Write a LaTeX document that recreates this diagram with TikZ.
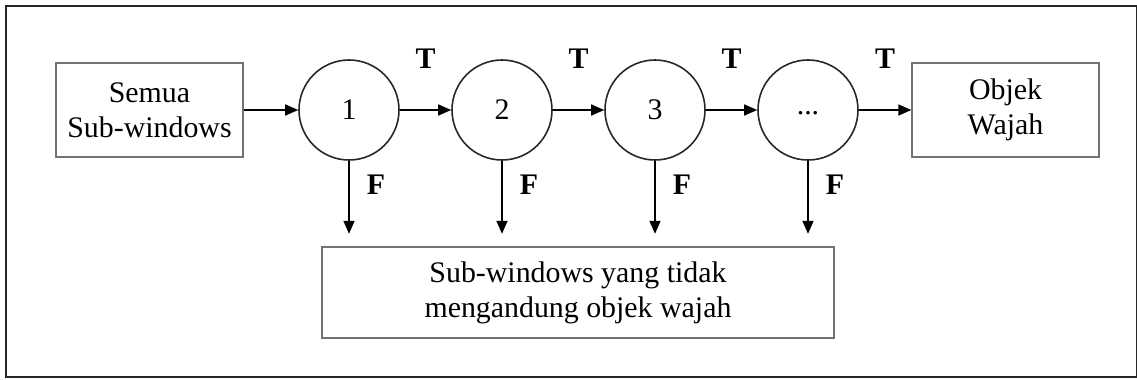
\documentclass[tikz,border=0pt]{standalone}
\usepackage{fontspec}
\setmainfont{Liberation Serif}
\usetikzlibrary{arrows.meta,positioning,calc}
\tikzset{
  kotak/.style={draw=black!55, line width=0.8pt, minimum width=3.74cm, minimum height=1.88cm, align=center, inner sep=0pt},
  tahap/.style={circle, draw=black!85, line width=0.9pt, minimum size=2cm, inner sep=0pt},
  panah/.style={-{Triangle[length=0.26cm,width=0.22cm]}, line width=0.9pt},
  lbl/.style={font=\fontsize{17}{20}\selectfont\bfseries}
}
\begin{document}
\begin{tikzpicture}[font=\fontsize{17}{20}\selectfont]
\useasboundingbox (0,0) rectangle (22.74,7.58);
\draw[line width=1.6pt, black!85] (0.12,0.04) rectangle (22.74,7.46);
% input, stages, output
\node[kotak] (semua) at (2.99,5.38) {Semua\\Sub-windows};
\node[tahap] (c1) at (6.98,5.38) {1};
\node[tahap] (c2) at (10.04,5.38) {2};
\node[tahap] (c3) at (13.10,5.38) {3};
\node[tahap] (c4) at (16.16,5.38) {\raisebox{-0.2cm}{...}};
\node[kotak] (objek) at (20.11,5.38) {Objek\\Wajah};
\node[kotak, minimum width=10.24cm, minimum height=1.82cm] (tolak) at (11.56,1.73) {Sub-windows yang tidak\\mengandung objek wajah};
% T arrows
\draw[panah] (semua) -- (c1);
\draw[panah] (c1) -- node[lbl, above=0.7cm] (t1) {T} (c2);
\draw[panah] (c2) -- node[lbl, above=0.7cm] (t2) {T} (c3);
\draw[panah] (c3) -- node[lbl, above=0.7cm] (t3) {T} (c4);
\draw[panah] (c4) -- node[lbl, above=0.7cm] (t4) {T} (objek);
% F arrows
\foreach \i in {1,2,3,4}{
  \coordinate (f\i) at ($(c\i.south)+(0,-1.46)$);
  \draw[panah] (c\i.south) -- (f\i);
  \node[lbl] (fl\i) at ($(c\i.south)+(0.54,-0.48)$) {F};
}
\end{tikzpicture}
\end{document}
